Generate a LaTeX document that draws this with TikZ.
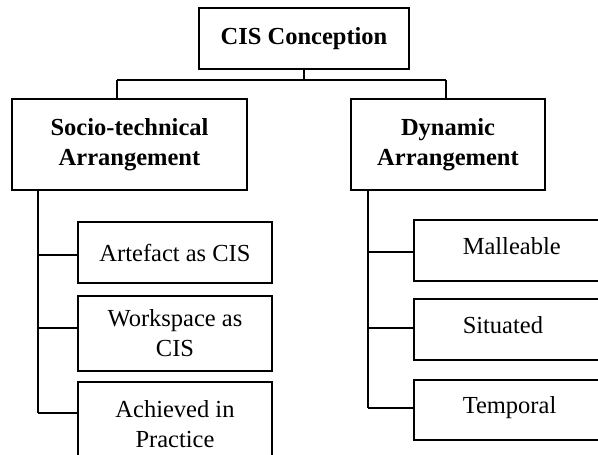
\documentclass[tikz,border=0pt]{standalone}
\usepackage{fontspec}
\setmainfont{Liberation Serif}
\begin{document}
\begin{tikzpicture}[x=1pt,y=-1pt,
  box/.style={draw, line width=1.5pt, inner sep=0pt, align=center,
    font=\fontsize{24.5}{30}\selectfont},
  boldbox/.style={box, font=\fontsize{24.5}{30}\selectfont\bfseries},
  leftbox/.style={box, anchor=north west, inner xsep=49pt, text width=100pt, align=left,
    minimum height=61, text height=17pt, text depth=9pt},
  link/.style={line width=1.5pt}]
\useasboundingbox (0,0) rectangle (598,455);
\clip (0,0) rectangle (598,455);
% top level
\node[boldbox, minimum width=210, minimum height=61] (top) at (304,38.5) {CIS Conception};
\node[boldbox, minimum width=235, minimum height=91] (st) at (129.5,144.5) {Socio-technical\\Arrangement};
\node[boldbox, minimum width=194, minimum height=91] (dy) at (448,144.5) {Dynamic\\Arrangement};
% left children
\node[box, minimum width=194, minimum height=61] (a1) at (175,252.5) {Artefact as CIS};
\node[box, minimum width=194, minimum height=75] (a2) at (175,333.5) {Workspace as\\CIS};
\node[box, minimum width=194, minimum height=85] (a3) at (175,424.5) {Achieved in\\Practice};
% right children
\node[leftbox] (m1) at (413,219) {Malleable};
\node[leftbox] (m2) at (413,298) {Situated};
\node[leftbox, minimum height=60] (m3) at (413,379) {Temporal};
% bus
\coordinate (busL) at (117,80);
\coordinate (busR) at (446,80);
\draw[link] (top.south) -- (top.south |- busL);
\draw[link] (busL) -- (busR);
\draw[link] (busL) -- (busL |- st.north);
\draw[link] (busR) -- (busR |- dy.north);
% left spine
\coordinate (ls) at (38,413);
\coordinate (lb1) at (38,255);
\coordinate (lb2) at (38,328);
\draw[link] (ls |- st.south) -- (ls);
\draw[link] (lb1) -- (lb1 -| a1.west);
\draw[link] (lb2) -- (lb2 -| a2.west);
\draw[link] (ls) -- (ls -| a3.west);
% right spine
\coordinate (rs) at (368,408);
\coordinate (rb1) at (368,252);
\coordinate (rb2) at (368,328);
\draw[link] (rs |- dy.south) -- (rs);
\draw[link] (rb1) -- (rb1 -| m1.west);
\draw[link] (rb2) -- (rb2 -| m2.west);
\draw[link] (rs) -- (rs -| m3.west);
\end{tikzpicture}
\end{document}
